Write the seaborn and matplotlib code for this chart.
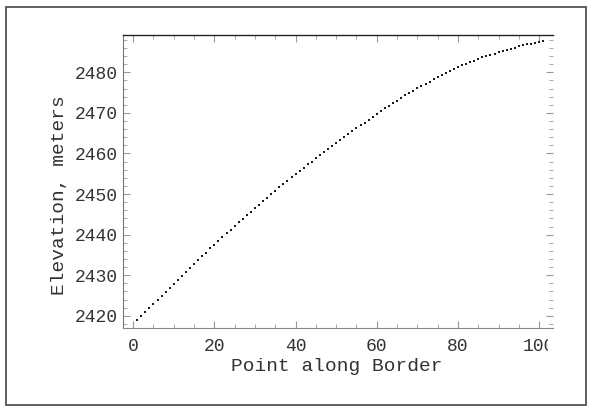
import matplotlib
matplotlib.use("Agg")
import matplotlib.pyplot as plt
import matplotlib.patches as mpatches
from matplotlib.ticker import MultipleLocator
import seaborn as sns
import pandas as pd

# ---- data ----
points = list(range(1, 102))
elevation = [
    2418.9, 2419.9, 2420.9, 2421.9, 2422.9, 2423.9, 2424.9, 2425.9, 2426.9, 2427.9,
    2428.8, 2429.8, 2430.8, 2431.8, 2432.7, 2433.7, 2434.7, 2435.6, 2436.6, 2437.5,
    2438.5, 2439.4, 2440.3, 2441.2, 2442.1, 2443.0, 2443.9, 2444.8, 2445.6, 2446.5,
    2447.4, 2448.3, 2449.1, 2450.0, 2450.8, 2451.7, 2452.5, 2453.3, 2454.1, 2454.9,
    2455.7, 2456.5, 2457.3, 2458.0, 2458.8, 2459.6, 2460.4, 2461.1, 2461.9, 2462.6,
    2463.4, 2464.1, 2464.8, 2465.5, 2466.2, 2467.0, 2467.6, 2468.3, 2469.0, 2469.7,
    2470.4, 2471.1, 2471.7, 2472.4, 2473.0, 2473.7, 2474.3, 2474.9, 2475.5, 2476.1,
    2476.7, 2477.2, 2477.7, 2478.3, 2478.8, 2479.4, 2479.8, 2480.3, 2480.7, 2481.2,
    2481.7, 2482.1, 2482.5, 2482.9, 2483.3, 2483.7, 2484.0, 2484.3, 2484.6, 2485.0,
    2485.3, 2485.6, 2485.8, 2486.1, 2486.4, 2486.7, 2486.9, 2487.1, 2487.3, 2487.5,
    2487.7,
]
x_ticks = [0, 20, 40, 60, 80, 100]
y_ticks = [2420, 2430, 2440, 2450, 2460, 2470, 2480]
x_label = "Point along Border"
y_label = "Elevation, meters"

df = pd.DataFrame({"point": points, "elevation": elevation})

sns.set_style("ticks")
plt.rcParams["font.family"] = ["Liberation Mono", "DejaVu Sans Mono"]

W, H = 592, 407
fig = plt.figure(figsize=(W / 100, H / 100), dpi=100)
fig.patch.set_facecolor("white")
ax = fig.add_axes([123 / W, 1 - 328 / H, (553 - 123) / W, (328 - 35) / H])

sns.scatterplot(data=df, x="point", y="elevation", ax=ax, color="#1a1a1a",
                marker="s", s=4, linewidth=0, legend=False)

ax.set_xlim(-2.5, 103.4)
ax.set_ylim(2417.0, 2489.2)
ax.set_xticks(x_ticks)
ax.set_yticks(y_ticks)
ax.xaxis.set_minor_locator(MultipleLocator(5))
ax.yaxis.set_minor_locator(MultipleLocator(2))

ax.tick_params(which="both", direction="in", top=True, right=True,
               colors="#999999", labelcolor="#333333", labelsize=13)
ax.tick_params(which="major", length=5, width=0.8)
ax.tick_params(which="minor", length=3, width=0.6)
ax.tick_params(axis="x", pad=7)
ax.tick_params(axis="y", pad=4)

ax.spines["top"].set_color("#222222")
ax.spines["top"].set_linewidth(1.0)
ax.spines["left"].set_color("#777777")
ax.spines["bottom"].set_color("#888888")
ax.spines["right"].set_visible(False)

ax.set_xlabel(x_label, fontsize=14, color="#333333")
ax.set_ylabel(y_label, fontsize=14, color="#333333")
ax.xaxis.set_label_coords((337 - 123) / 430, (328 - 358) / 293)
ax.yaxis.set_label_coords((68 - 123) / 430, (328 - 195) / 293)

# reference crops the last x tick label at the right frame edge
fig.patches.append(mpatches.Rectangle((548 / W, 1 - 352 / H), 34 / W, 22 / H,
                                      transform=fig.transFigure, facecolor="white",
                                      edgecolor="none", zorder=10))
# outer border
fig.patches.append(mpatches.Rectangle((6 / W, 1 - 405 / H), (586 - 6) / W, (405 - 7) / H,
                                      transform=fig.transFigure, facecolor="none",
                                      edgecolor="#444444", linewidth=1.2, zorder=11))

fig.savefig("out.png", dpi=100)
